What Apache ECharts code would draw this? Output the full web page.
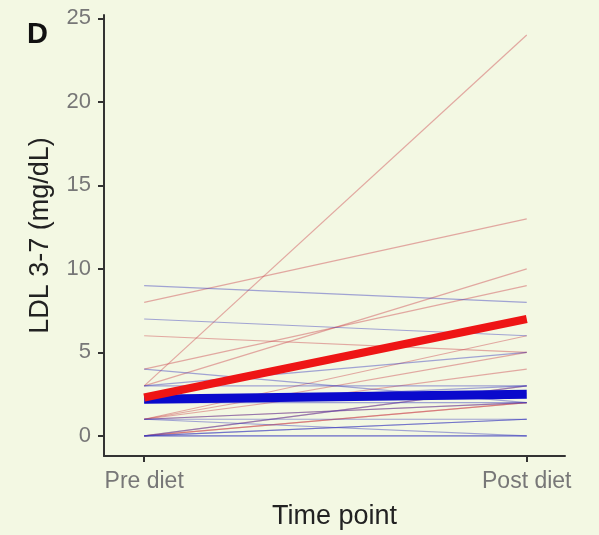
<!DOCTYPE html>
<html>
<head>
<meta charset="utf-8">
<script src="https://cdn.jsdelivr.net/npm/echarts@6/dist/echarts.min.js"></script>
<style>
  html, body { margin: 0; padding: 0; background: #f3f8e3; }
  #main { width: 599px; height: 535px; }
</style>
</head>
<body>
<div id="main"></div>
<script>
var timePoints = ['Pre diet', 'Post diet'];
var yTicks = [0, 5, 10, 15, 20, 25];

// individual subjects, group shown in red
var redPre  = [3, 8, 3, 4, 6, 1, 1, 0, 1, 0, 1, 0];
var redPost = [24, 13, 10, 9, 5, 5, 4, 2, 2, 3, 6, 2];

// individual subjects, group shown in blue
var bluePre  = [9, 7, 4, 3, 3, 2, 1, 1, 0, 0, 0, 2, 1, 0, 0];
var bluePost = [8, 6, 2, 5, 3, 3, 0, 1, 0, 3, 1, 2, 2, 0, 1];

// group means (thick lines)
var redMean  = [2.3, 7.0];
var blueMean = [2.2, 2.5];

var font = '"Liberation Sans", Arial, sans-serif';

function thinLines(pre, post, color) {
    var out = [];
    for (var i = 0; i < pre.length; i++) {
        out.push({
            type: 'line',
            data: [[0, pre[i]], [1, post[i]]],
            symbol: 'none',
            lineStyle: { color: color, width: 1.2 },
            z: 2
        });
    }
    return out;
}

var series = []
    .concat(thinLines(redPre, redPost, 'rgba(205,70,80,0.45)'))
    .concat(thinLines(bluePre, bluePost, 'rgba(60,60,190,0.45)'));

series.push({
    type: 'line',
    data: [[0, blueMean[0]], [1, blueMean[1]]],
    symbol: 'none',
    lineStyle: { color: '#0a0acc', width: 9, cap: 'butt' },
    z: 3
});
series.push({
    type: 'line',
    data: [[0, redMean[0]], [1, redMean[1]]],
    symbol: 'none',
    lineStyle: { color: '#ee1515', width: 8, cap: 'butt' },
    z: 4
});

var myChart = echarts.init(document.getElementById('main'));
var option = {
    backgroundColor: '#f3f8e3',
    animation: false,
    grid: { left: 104, right: 34, top: 15, bottom: 78 },
    graphic: [{
        type: 'text',
        left: 27,
        top: 20,
        style: { text: 'D', font: 'bold 29px ' + font, fill: '#111' }
    }],
    xAxis: {
        type: 'value',
        min: -0.105,
        max: 1.1,
        name: 'Time point',
        nameLocation: 'middle',
        nameGap: 47,
        nameTextStyle: { fontFamily: font, fontSize: 27, color: '#222' },
        axisLine: { onZero: false, lineStyle: { color: '#333', width: 2 } },
        axisTick: { customValues: [0, 1], length: 6, lineStyle: { color: '#333', width: 2 } },
        axisLabel: {
            customValues: [0, 1],
            formatter: function (v) { return timePoints[v]; },
            fontFamily: font, fontSize: 23, color: '#777', margin: 14
        },
        splitLine: { show: false }
    },
    yAxis: {
        type: 'value',
        min: -1.2,
        max: 25.2,
        name: 'LDL 3-7 (mg/dL)',
        nameLocation: 'middle',
        nameGap: 50,
        nameTextStyle: { fontFamily: font, fontSize: 27, color: '#222' },
        axisLine: { show: true, onZero: false, lineStyle: { color: '#333', width: 2 } },
        axisTick: { show: true, customValues: yTicks, length: 6, lineStyle: { color: '#333', width: 2 } },
        axisLabel: { customValues: yTicks, fontFamily: font, fontSize: 22, color: '#777', margin: 13 },
        splitLine: { show: false }
    },
    series: series
};
myChart.setOption(option);
</script>
</body>
</html>
